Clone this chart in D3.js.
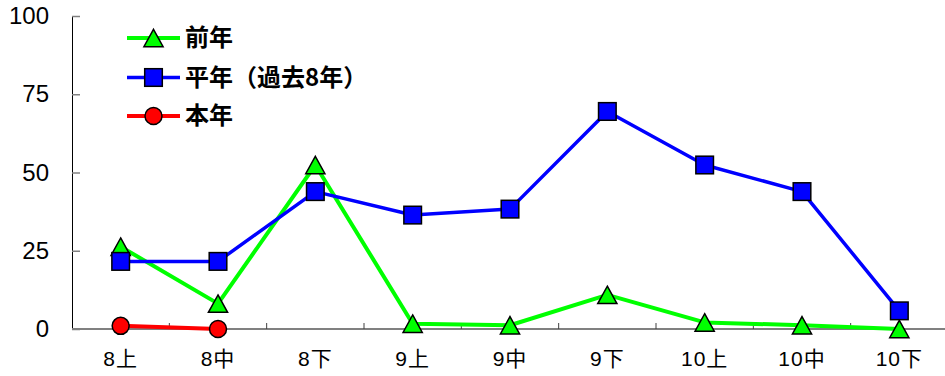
<!DOCTYPE html>
<html>
<head>
<meta charset="utf-8">
<script src="https://cdn.jsdelivr.net/npm/d3@7"></script>
<style>
  html, body { margin: 0; padding: 0; background: #fff; }
  svg { display: block; }
</style>
</head>
<body>
<svg id="chart" width="945" height="376"></svg>
<script>
// 旬別の値
const periods = ["8上", "8中", "8下", "9上", "9中", "9下", "10上", "10中", "10下"];
const prevYear = [26.3, 8.1, 52.4, 1.7, 1.2, 10.9, 2.1, 1.2, 0];          // 前年
const normalYear = [21.6, 21.6, 43.9, 36.4, 38.3, 69.5, 52.4, 43.9, 5.8]; // 平年（過去8年）
const thisYear = [1.0, 0];                                                 // 本年
const yTicks = [0, 25, 50, 75, 100];

const seriesList = [
  { name: "前年", values: prevYear, color: "#00ff00", marker: "triangle", width: 4 },
  { name: "平年（過去8年）", values: normalYear, color: "#0000ff", marker: "square", width: 3.5 },
  { name: "本年", values: thisYear, color: "#ff0000", marker: "circle", width: 4 }
];

const svg = d3.select("#chart");
const plotLeft = 72, plotRight = 948, plotTop = 16, plotBottom = 329;

const x = d3.scaleBand().domain(periods).range([plotLeft, plotRight]).padding(0);
const y = d3.scaleLinear().domain([0, 100]).range([plotBottom, plotTop]);
const cx = d => x(d) + x.bandwidth() / 2;

// y 軸
const yAxis = d3.axisLeft(y).tickValues(yTicks).tickSizeInner(-8).tickSizeOuter(0).tickPadding(23);
const gy = svg.append("g").attr("transform", `translate(${plotLeft},0)`).call(yAxis);
gy.select(".domain").attr("stroke", "#000").attr("stroke-width", 1);
gy.selectAll(".tick line").attr("stroke", "#808080").attr("stroke-width", 1.5);
gy.selectAll(".tick text")
  .attr("font-family", "'Liberation Sans', Arial, sans-serif")
  .attr("font-size", 24).attr("fill", "#000");

// x 軸（線と区切り目盛り）
svg.append("line")
  .attr("x1", plotLeft).attr("x2", 945).attr("y1", y(0)).attr("y2", y(0))
  .attr("stroke", "#808080").attr("stroke-width", 2);
svg.selectAll(".xsep").data(periods.slice(1)).join("line")
  .attr("class", "xsep")
  .attr("x1", d => x(d)).attr("x2", d => x(d))
  .attr("y1", y(0)).attr("y2", y(0) - 6)
  .attr("stroke", "#404040").attr("stroke-width", 1);

const xAxis = d3.axisBottom(x).tickSize(0).tickPadding(22);
const gx = svg.append("g").attr("transform", `translate(0,${y(0)})`).call(xAxis);
gx.select(".domain").remove();
gx.selectAll(".tick text")
  .attr("font-family", "'Liberation Sans', 'Noto Sans CJK JP', sans-serif")
  .attr("font-size", 21).attr("letter-spacing", "1px").attr("fill", "#000");

// 折れ線
const line = d3.line().x((d, i) => cx(periods[i])).y(d => y(d));
seriesList.forEach(s => {
  svg.append("path")
    .datum(s.values)
    .attr("d", line)
    .attr("fill", "none")
    .attr("stroke", s.color)
    .attr("stroke-width", s.width)
    .attr("stroke-linejoin", "round");
});

// マーカー
function drawMarker(g, type, px, py, color) {
  if (type === "triangle") {
    g.append("path")
      .attr("d", `M${px},${py - 8.7}L${px + 9.6},${py + 8.7}L${px - 9.6},${py + 8.7}Z`)
      .attr("fill", color).attr("stroke", "#000").attr("stroke-width", 1.5)
      .attr("stroke-linejoin", "miter");
  } else if (type === "square") {
    g.append("rect")
      .attr("x", px - 8.8).attr("y", py - 8.8).attr("width", 17.6).attr("height", 17.6)
      .attr("fill", color).attr("stroke", "#000").attr("stroke-width", 1.5);
  } else {
    g.append("circle")
      .attr("cx", px).attr("cy", py).attr("r", 8.5)
      .attr("fill", color).attr("stroke", "#000").attr("stroke-width", 1.5);
  }
}
seriesList.forEach(s => {
  const g = svg.append("g");
  s.values.forEach((v, i) => drawMarker(g, s.marker, cx(periods[i]), y(v), s.color));
});

// 凡例
const legendY = [38, 77.5, 116];
seriesList.forEach((s, i) => {
  const g = svg.append("g");
  g.append("line")
    .attr("x1", 127).attr("x2", 180).attr("y1", legendY[i]).attr("y2", legendY[i])
    .attr("stroke", s.color).attr("stroke-width", s.width);
  drawMarker(g, s.marker, 153.5, legendY[i], s.color);
  g.append("text")
    .attr("x", 185).attr("y", legendY[i])
    .attr("dy", "0.34em")
    .attr("font-family", "'Noto Sans CJK JP', sans-serif")
    .attr("font-weight", "bold")
    .attr("font-size", 24)
    .attr("fill", "#000")
    .text(s.name);
});
</script>
</body>
</html>
